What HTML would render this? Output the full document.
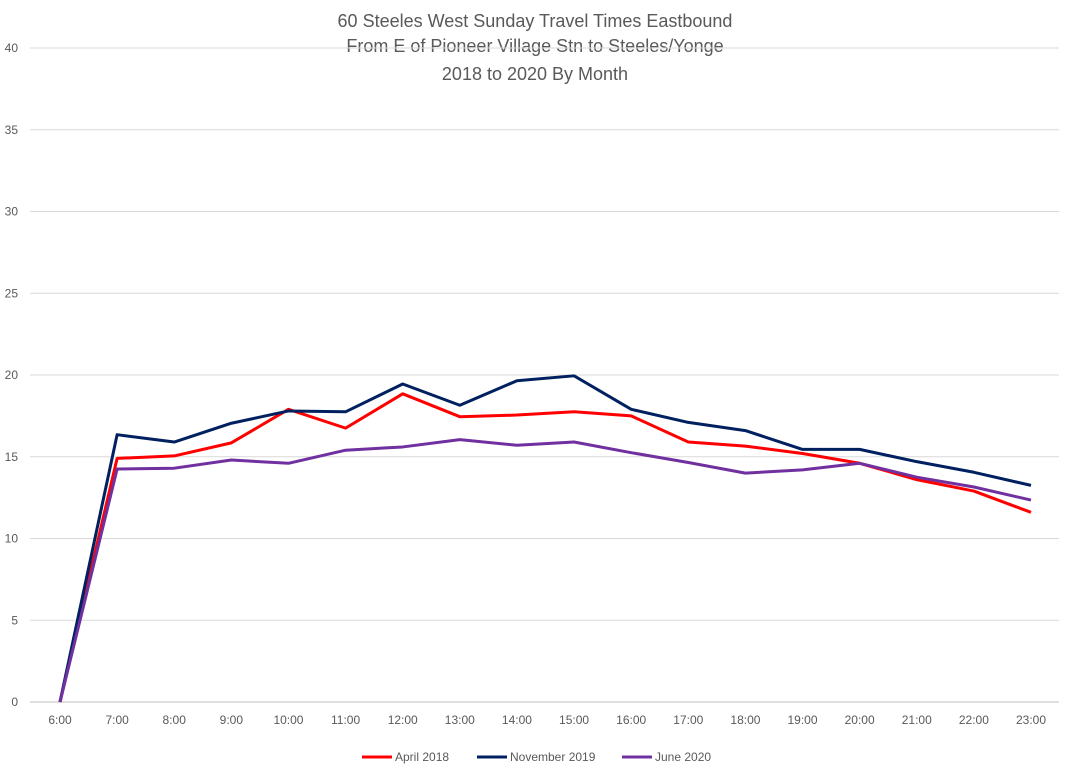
<!DOCTYPE html>
<html><head><meta charset="utf-8"><style>
body{margin:0;background:#fff;font-family:"Liberation Sans",sans-serif;}
svg{display:block}
</style></head><body>
<svg id="chart" width="1067" height="772" xmlns="http://www.w3.org/2000/svg">
<rect width="1067" height="772" fill="#fff"/>
<g font-size="18" fill="#595959" text-anchor="middle">
<text x="535" y="27">60 Steeles West Sunday Travel Times Eastbound</text>
<text x="535" y="52">From E of Pioneer Village Stn to Steeles/Yonge</text>
<text x="535" y="80">2018 to 2020 By Month</text>
</g>
<g id="grid"></g><g id="yt"></g><g id="xt"></g><g id="lines"></g>
<g font-size="12" fill="#595959">
<g><line x1="362" y1="757" x2="392" y2="757" stroke="#ff0000" stroke-width="3"/><text x="395" y="761">April 2018</text></g>
<g><line x1="477" y1="757" x2="507" y2="757" stroke="#002060" stroke-width="3"/><text x="510" y="761">November 2019</text></g>
<g><line x1="622" y1="757" x2="652" y2="757" stroke="#7030a0" stroke-width="3"/><text x="655" y="761">June 2020</text></g>
</g>
</svg>
<script>
const categories=["6:00","7:00","8:00","9:00","10:00","11:00","12:00","13:00","14:00","15:00","16:00","17:00","18:00","19:00","20:00","21:00","22:00","23:00"];
const april2018=[0,14.9,15.05,15.85,17.9,16.75,18.85,17.45,17.55,17.75,17.5,15.9,15.65,15.2,14.6,13.6,12.9,11.6];
const november2019=[0,16.35,15.9,17.05,17.8,17.75,19.45,18.15,19.65,19.95,17.9,17.1,16.6,15.45,15.45,14.7,14.05,13.25];
const june2020=[0,14.25,14.3,14.8,14.6,15.4,15.6,16.05,15.7,15.9,15.25,14.65,14.0,14.2,14.6,13.75,13.15,12.35];
const yTicks=[0,5,10,15,20,25,30,35,40];
const NS="http://www.w3.org/2000/svg";
const x=i=>60+i*(971/17);
const y=v=>702-v*(654/40);
function mk(t,a,p){const e=document.createElementNS(NS,t);for(const k in a)e.setAttribute(k,a[k]);p.appendChild(e);return e;}
const grid=document.getElementById('grid'),yt=document.getElementById('yt'),xt=document.getElementById('xt'),lines=document.getElementById('lines');
yTicks.forEach(v=>{
const l=mk('line',{x1:30,x2:1059,y1:y(v),y2:y(v),stroke:v===0?'#bfbfbf':'#d9d9d9','stroke-width':1},grid);


const t=mk('text',{x:18,y:y(v)+4,'font-size':12,fill:'#595959','text-anchor':'end'},yt);t.textContent=v;


});
categories.forEach((c,i)=>{
const t=mk('text',{x:x(i),y:724,'font-size':12,fill:'#595959','text-anchor':'middle'},xt);t.textContent=c;


});
[[april2018,'#ff0000','april-2018'],[november2019,'#002060','november-2019'],[june2020,'#7030a0','june-2020']].forEach(([d,c,n])=>{
const p=mk('polyline',{points:d.map((v,i)=>x(i)+','+y(v)).join(' '),fill:'none',stroke:c,'stroke-width':3,'stroke-linejoin':'round'},lines);


});
</script>
</body></html>
